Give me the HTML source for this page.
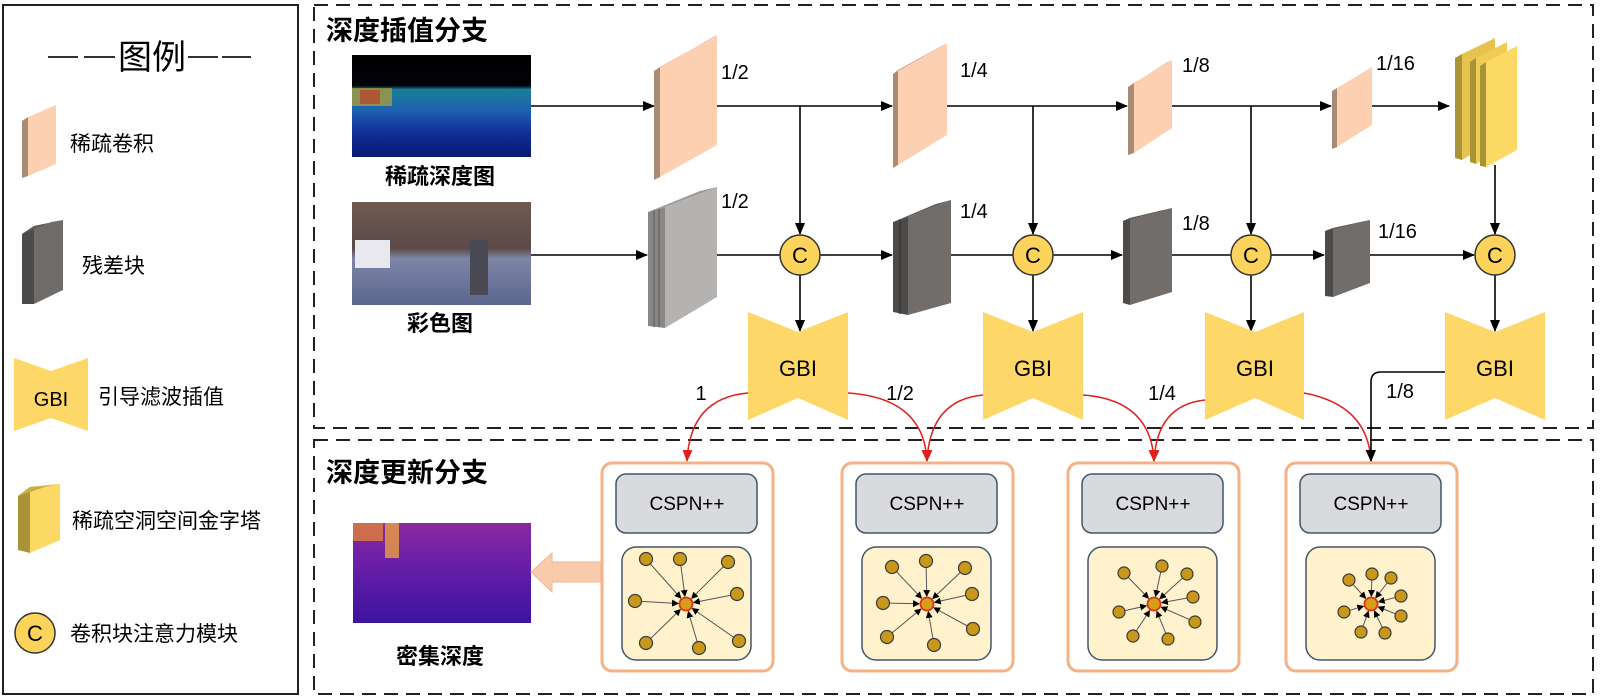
<!DOCTYPE html>
<html><head><meta charset="utf-8"><style>
html,body{margin:0;padding:0;background:#fff;}
svg{display:block;}
text{font-family:"Liberation Sans","Noto Sans CJK SC",sans-serif;}
.cn{font-family:"Liberation Sans","Noto Sans CJK SC",sans-serif;}
</style></head><body>
<svg width="1600" height="697" viewBox="0 0 1600 697" xmlns="http://www.w3.org/2000/svg">
<defs>
<marker id="ab" markerWidth="12" markerHeight="12" refX="11" refY="6" orient="auto" markerUnits="userSpaceOnUse"><path d="M0,1 L12,6 L0,11 Z" fill="#000"/></marker>
<marker id="ar" markerWidth="12" markerHeight="12" refX="11" refY="6" orient="auto" markerUnits="userSpaceOnUse"><path d="M0,1 L12,6 L0,11 Z" fill="#e0201c"/></marker>
<marker id="as" markerWidth="7" markerHeight="7" refX="6" refY="3.5" orient="auto" markerUnits="userSpaceOnUse"><path d="M0,0 L7,3.5 L0,7 Z" fill="#000"/></marker>
<linearGradient id="dep" x1="0" y1="0" x2="0" y2="1">
<stop offset="0" stop-color="#000"/><stop offset="0.3" stop-color="#02030a"/><stop offset="0.34" stop-color="#1a7f9a"/><stop offset="0.55" stop-color="#1d5fb0"/><stop offset="0.75" stop-color="#122f9a"/><stop offset="1" stop-color="#0a1a70"/></linearGradient>
<linearGradient id="col" x1="0" y1="0" x2="0" y2="1">
<stop offset="0" stop-color="#6e5a50"/><stop offset="0.45" stop-color="#5b4a47"/><stop offset="0.55" stop-color="#7d86a6"/><stop offset="1" stop-color="#5c6690"/></linearGradient>
<linearGradient id="den" x1="0" y1="0" x2="0" y2="1">
<stop offset="0" stop-color="#8a2aa0"/><stop offset="0.4" stop-color="#6a1ea8"/><stop offset="1" stop-color="#3c13a0"/></linearGradient>
</defs>

<!-- Legend -->
<rect x="3" y="5" width="295" height="689" fill="none" stroke="#222" stroke-width="2"/>
<line x1="48" y1="57" x2="78" y2="57" stroke="#333" stroke-width="2"/>
<line x1="84" y1="57" x2="115" y2="57" stroke="#333" stroke-width="2"/>
<line x1="188" y1="57" x2="218" y2="57" stroke="#333" stroke-width="2"/>
<line x1="222" y1="57" x2="251" y2="57" stroke="#333" stroke-width="2"/>
<text x="152" y="69" font-size="34" text-anchor="middle" class="cn">图例</text>
<polygon points="22,121 28,117 28,176 22,178" fill="#a88b74"/>
<polygon points="28,117 56,105 56,164 28,176" fill="#fdd0b1"/>
<text x="70" y="151" font-size="21" class="cn">稀疏卷积</text>
<polygon points="22,234 34,226 34,304 22,304" fill="#4d4b4a"/>
<polygon points="34,226 63,220 63,290 34,304" fill="#6f6b69"/>
<polygon points="22,234 51,222 63,220 34,226" fill="#5e5a58"/>
<text x="82" y="273" font-size="21" class="cn">残差块</text>
<polygon points="14,358 51,371 88,358 88,431 51,418 14,431" fill="#fdd868"/>
<text x="51" y="406" font-size="20" text-anchor="middle">GBI</text>
<text x="98" y="404" font-size="21" class="cn">引导滤波插值</text>
<polygon points="18,496 30,487 30,553 18,550" fill="#a89336"/>
<polygon points="30,487 60,484 60,540 30,553" fill="#fcd965"/>
<polygon points="18,496 48,486 60,484 30,487" fill="#c9ad45"/>
<text x="72" y="528" font-size="21" class="cn">稀疏空洞空间金字塔</text>
<circle cx="35" cy="633" r="20" fill="#fcd45c" stroke="#333" stroke-width="1.5"/>
<text x="35" y="641" font-size="22" text-anchor="middle">C</text>
<text x="70" y="641" font-size="21" class="cn">卷积块注意力模块</text>

<!-- dashed boxes -->
<rect x="314" y="5" width="1279" height="423" fill="none" stroke="#222" stroke-width="2" stroke-dasharray="14,8"/>
<rect x="314" y="440" width="1279" height="254" fill="none" stroke="#222" stroke-width="2" stroke-dasharray="14,8"/>
<text x="326" y="40" font-size="27" font-weight="bold" class="cn">深度插值分支</text>
<text x="326" y="482" font-size="27" font-weight="bold" class="cn">深度更新分支</text>

<!-- input images -->
<rect x="352" y="55" width="179" height="102" fill="url(#dep)"/>
<rect x="352" y="88" width="40" height="18" fill="#b8a030" opacity="0.7"/>
<rect x="360" y="90" width="20" height="14" fill="#c83020" opacity="0.6"/>
<text x="440" y="184" font-size="22" font-weight="bold" text-anchor="middle" class="cn">稀疏深度图</text>
<rect x="352" y="202" width="179" height="103" fill="url(#col)"/>
<rect x="355" y="240" width="35" height="28" fill="#e8e8ee"/>
<rect x="470" y="240" width="18" height="55" fill="#4a4a55"/>
<text x="440" y="331" font-size="22" font-weight="bold" text-anchor="middle" class="cn">彩色图</text>

<!-- top row connections -->
<g stroke="#000" stroke-width="1.6" fill="none">
<line x1="531" y1="106" x2="654" y2="106" marker-end="url(#ab)"/>
<line x1="717" y1="106" x2="892" y2="106" marker-end="url(#ab)"/>
<line x1="947" y1="106" x2="1127" y2="106" marker-end="url(#ab)"/>
<line x1="1172" y1="106" x2="1331" y2="106" marker-end="url(#ab)"/>
<line x1="1372" y1="106" x2="1449" y2="106" marker-end="url(#ab)"/>
<line x1="800" y1="106" x2="800" y2="234" marker-end="url(#ab)"/>
<line x1="1033" y1="106" x2="1033" y2="234" marker-end="url(#ab)"/>
<line x1="1251" y1="106" x2="1251" y2="234" marker-end="url(#ab)"/>
<line x1="1495" y1="165" x2="1495" y2="234" marker-end="url(#ab)"/>
<!-- bottom row -->
<line x1="531" y1="255" x2="647" y2="255" marker-end="url(#ab)"/>
<line x1="717" y1="255" x2="780" y2="255"/>
<line x1="820" y1="255" x2="892" y2="255" marker-end="url(#ab)"/>
<line x1="951" y1="255" x2="1013" y2="255"/>
<line x1="1053" y1="255" x2="1122" y2="255" marker-end="url(#ab)"/>
<line x1="1172" y1="255" x2="1231" y2="255"/>
<line x1="1271" y1="255" x2="1324" y2="255" marker-end="url(#ab)"/>
<line x1="1370" y1="255" x2="1474" y2="255" marker-end="url(#ab)"/>
<line x1="800" y1="275" x2="800" y2="331" marker-end="url(#ab)"/>
<line x1="1033" y1="275" x2="1033" y2="331" marker-end="url(#ab)"/>
<line x1="1251" y1="275" x2="1251" y2="331" marker-end="url(#ab)"/>
<line x1="1495" y1="275" x2="1495" y2="331" marker-end="url(#ab)"/>
</g>

<!-- sparse conv plates -->
<polygon points="654,71 660,67 660,177 654,180" fill="#a88b74"/>
<polygon points="660,67 717,35 717,145 660,177" fill="#fdd0b1"/>
<polygon points="654,71 711,38 717,35 660,67" fill="#c9a68e"/>
<polygon points="893,74 898,70 898,165 893,168" fill="#a88b74"/>
<polygon points="898,70 947,43 947,135 898,165" fill="#fdd0b1"/>
<polygon points="893,74 942,46 947,43 898,70" fill="#c9a68e"/>
<polygon points="1128,87 1134,83 1134,153 1128,155" fill="#a88b74"/>
<polygon points="1134,83 1172,60 1172,128 1134,153" fill="#fdd0b1"/>
<polygon points="1128,87 1166,63 1172,60 1134,83" fill="#c9a68e"/>
<polygon points="1332,91 1337,88 1337,147 1332,149" fill="#a88b74"/>
<polygon points="1337,88 1372,67 1372,125 1337,147" fill="#fdd0b1"/>
<polygon points="1332,91 1367,70 1372,67 1337,88" fill="#c9a68e"/>
<text x="721" y="79" font-size="20">1/2</text>
<text x="960" y="77" font-size="20">1/4</text>
<text x="1182" y="72" font-size="20">1/8</text>
<text x="1376" y="70" font-size="20">1/16</text>

<!-- ASPP pyramid -->
<polygon points="1455,58 1462,54 1462,160 1455,158" fill="#a89336"/>
<polygon points="1462,54 1495,38 1495,140 1462,160" fill="#e8c24e"/>
<polygon points="1470,62 1476,58 1476,164 1470,162" fill="#a89336"/>
<polygon points="1476,58 1507,42 1507,146 1476,164" fill="#f0cc55"/>
<polygon points="1480,66 1486,62 1486,167 1480,166" fill="#a89336"/>
<polygon points="1486,62 1517,46 1517,150 1486,167" fill="#fcd965"/>

<!-- residual blocks -->
<polygon points="648,212 665,207 665,328 648,326" fill="#8a8886"/>
<line x1="654" y1="210" x2="654" y2="327" stroke="#6b6968" stroke-width="1.5"/>
<line x1="659" y1="209" x2="659" y2="327" stroke="#6b6968" stroke-width="1.5"/>
<polygon points="665,207 717,187 717,297 665,328" fill="#b5b3b1"/>
<polygon points="648,212 700,191 717,187 665,207" fill="#9c9a98"/>
<polygon points="893,222 908,217 908,315 893,312" fill="#4d4b4a"/>
<line x1="900" y1="219" x2="900" y2="314" stroke="#3a3838" stroke-width="1.5"/>
<polygon points="908,217 951,200 951,303 908,315" fill="#716d6b"/>
<polygon points="893,222 936,204 951,200 908,217" fill="#5a5756"/>
<polygon points="1123,221 1130,218 1130,305 1123,303" fill="#4d4b4a"/>
<polygon points="1130,218 1172,208 1172,292 1130,305" fill="#716d6b"/>
<polygon points="1123,221 1165,210 1172,208 1130,218" fill="#5a5756"/>
<polygon points="1325,231 1333,228 1333,297 1325,296" fill="#4d4b4a"/>
<polygon points="1333,228 1370,220 1370,283 1333,297" fill="#716d6b"/>
<polygon points="1325,231 1362,222 1370,220 1333,228" fill="#5a5756"/>
<text x="721" y="208" font-size="20">1/2</text>
<text x="960" y="218" font-size="20">1/4</text>
<text x="1182" y="230" font-size="20">1/8</text>
<text x="1378" y="238" font-size="20">1/16</text>

<!-- C circles -->
<g stroke="#333" stroke-width="1.5" fill="#fcd45c">
<circle cx="800" cy="255" r="20"/><circle cx="1033" cy="255" r="20"/><circle cx="1251" cy="255" r="20"/><circle cx="1495" cy="255" r="20"/>
</g>
<g font-size="22" text-anchor="middle">
<text x="800" y="263">C</text><text x="1033" y="263">C</text><text x="1251" y="263">C</text><text x="1495" y="263">C</text>
</g>

<!-- GBI -->
<g fill="#fdd868">
<polygon points="748,312 798,332 848,312 848,420 798,398 748,420"/>
<polygon points="983,312 1033,332 1083,312 1083,420 1033,398 983,420"/>
<polygon points="1205,312 1255,332 1304,312 1304,420 1255,398 1205,420"/>
<polygon points="1445,312 1495,332 1545,312 1545,420 1495,398 1445,420"/>
</g>
<g font-size="22" text-anchor="middle">
<text x="798" y="376">GBI</text><text x="1033" y="376">GBI</text><text x="1255" y="376">GBI</text><text x="1495" y="376">GBI</text>
</g>

<!-- to CSPN -->
<g stroke="#e0201c" stroke-width="1.5" fill="none">
<path d="M748,393 Q690,398 687,461" marker-end="url(#ar)"/>
<path d="M848,393 Q924,398 927,461" marker-end="url(#ar)"/>
<path d="M983,395 Q930,400 927,461" marker-end="url(#ar)"/>
<path d="M1083,395 Q1151,400 1154,461" marker-end="url(#ar)"/>
<path d="M1205,400 Q1157,405 1154,461" marker-end="url(#ar)"/>
<path d="M1304,393 Q1368,405 1371,461" marker-end="url(#ar)"/>
</g>
<path d="M1445,372 H1381 Q1371,372 1371,382 V461" stroke="#000" stroke-width="1.6" fill="none" marker-end="url(#ab)"/>
<text x="701" y="400" font-size="20" text-anchor="middle">1</text>
<text x="900" y="400" font-size="20" text-anchor="middle">1/2</text>
<text x="1162" y="400" font-size="20" text-anchor="middle">1/4</text>
<text x="1400" y="398" font-size="20" text-anchor="middle">1/8</text>

<!-- dense depth + arrow -->
<rect x="353" y="523" width="178" height="100" fill="url(#den)"/>
<rect x="353" y="523" width="30" height="18" fill="#e0803a" opacity="0.8"/>
<rect x="385" y="523" width="14" height="35" fill="#e8a040" opacity="0.8"/>
<text x="440" y="664" font-size="22" font-weight="bold" text-anchor="middle" class="cn">密集深度</text>
<polygon points="602,562 552,562 552,553 531,572 552,592 552,582 602,582" fill="#f8cbad" stroke="#f0b890" stroke-width="1"/>

<!-- CSPN boxes -->
<g fill="#fff" stroke="#f4b183" stroke-width="3">
<rect x="602" y="463" width="171" height="208" rx="10"/>
<rect x="842" y="463" width="171" height="208" rx="10"/>
<rect x="1068" y="463" width="171" height="208" rx="10"/>
<rect x="1286" y="463" width="171" height="208" rx="10"/>
</g>
<g fill="#d9dadd" stroke="#44546a" stroke-width="1.5">
<rect x="616" y="474" width="141" height="59" rx="10"/>
<rect x="856" y="474" width="141" height="59" rx="10"/>
<rect x="1082" y="474" width="141" height="59" rx="10"/>
<rect x="1300" y="474" width="141" height="59" rx="10"/>
</g>
<g font-size="19" text-anchor="middle">
<text x="687" y="510">CSPN++</text><text x="927" y="510">CSPN++</text><text x="1153" y="510">CSPN++</text><text x="1371" y="510">CSPN++</text>
</g>
<g fill="#fff2cc" stroke="#44546a" stroke-width="1.5">
<rect x="622" y="547" width="129" height="113" rx="14"/>
<rect x="862" y="547" width="129" height="113" rx="14"/>
<rect x="1088" y="547" width="129" height="113" rx="14"/>
<rect x="1306" y="547" width="129" height="113" rx="14"/>
</g>
<g stroke="#555" stroke-width="1" marker-end="url(#as)">
<line x1="646" y1="559" x2="680.7" y2="598"/><line x1="680" y1="559" x2="684.9" y2="596"/><line x1="728" y1="562" x2="691.7" y2="598.3"/><line x1="635" y1="601" x2="678" y2="603.5"/><line x1="737" y1="594" x2="693.8" y2="602.5"/><line x1="646" y1="643" x2="680.3" y2="609.6"/><line x1="699" y1="648" x2="688.3" y2="611.7"/><line x1="739" y1="641" x2="692.5" y2="608.6"/>
<line x1="892" y1="567" x2="921.5" y2="598.2"/><line x1="926" y1="561" x2="926.8" y2="596"/><line x1="965" y1="568" x2="932.8" y2="598.5"/><line x1="883" y1="603" x2="919" y2="603.8"/><line x1="972" y1="594" x2="934.8" y2="602.3"/><line x1="887" y1="637" x2="920.8" y2="609.1"/><line x1="934" y1="645" x2="928.3" y2="611.9"/><line x1="973" y1="629" x2="934" y2="607.8"/>
<line x1="1124" y1="573" x2="1148.4" y2="598.2"/><line x1="1162" y1="566" x2="1155.6" y2="596.2"/><line x1="1187" y1="574" x2="1159.9" y2="598.7"/><line x1="1193" y1="597" x2="1161.9" y2="602.6"/><line x1="1119" y1="612" x2="1146.2" y2="605.8"/><line x1="1195" y1="622" x2="1161.3" y2="607.2"/><line x1="1133" y1="636" x2="1149.6" y2="610.7"/><line x1="1168" y1="639" x2="1156.9" y2="611.4"/>
<line x1="1349" y1="580" x2="1365.6" y2="598.2"/><line x1="1372" y1="574" x2="1371.3" y2="596"/><line x1="1391" y1="578" x2="1375.8" y2="597.7"/><line x1="1401" y1="596" x2="1378.7" y2="601.9"/><line x1="1344" y1="612" x2="1363.3" y2="606.3"/><line x1="1401" y1="616" x2="1378.4" y2="607"/><line x1="1361" y1="632" x2="1368.3" y2="611.5"/><line x1="1385" y1="633" x2="1374.5" y2="611.2"/>
</g>
<g fill="#c9971a" stroke="#3a3a3a" stroke-width="1.2">
<circle cx="646" cy="559" r="6.5"/><circle cx="680" cy="559" r="6.5"/><circle cx="728" cy="562" r="6.5"/><circle cx="635" cy="601" r="6.5"/><circle cx="737" cy="594" r="6.5"/><circle cx="646" cy="643" r="6.5"/><circle cx="699" cy="648" r="6.5"/><circle cx="739" cy="641" r="6.5"/>
<circle cx="892" cy="567" r="6.5"/><circle cx="926" cy="561" r="6.5"/><circle cx="965" cy="568" r="6.5"/><circle cx="883" cy="603" r="6.5"/><circle cx="972" cy="594" r="6.5"/><circle cx="887" cy="637" r="6.5"/><circle cx="934" cy="645" r="6.5"/><circle cx="973" cy="629" r="6.5"/>
<circle cx="1124" cy="573" r="6"/><circle cx="1162" cy="566" r="6"/><circle cx="1187" cy="574" r="6"/><circle cx="1193" cy="597" r="6"/><circle cx="1119" cy="612" r="6"/><circle cx="1195" cy="622" r="6"/><circle cx="1133" cy="636" r="6"/><circle cx="1168" cy="639" r="6"/>
<circle cx="1349" cy="580" r="6"/><circle cx="1372" cy="574" r="6"/><circle cx="1391" cy="578" r="6"/><circle cx="1401" cy="596" r="6"/><circle cx="1344" cy="612" r="6"/><circle cx="1401" cy="616" r="6"/><circle cx="1361" cy="632" r="6"/><circle cx="1385" cy="633" r="6"/>
</g>
<g fill="#d4a017" stroke="#e03020" stroke-width="1.8">
<circle cx="686" cy="604" r="6.5"/><circle cx="927" cy="604" r="6.5"/><circle cx="1154" cy="604" r="6.5"/><circle cx="1371" cy="604" r="6.5"/>
</g>
</svg>
</body></html>
